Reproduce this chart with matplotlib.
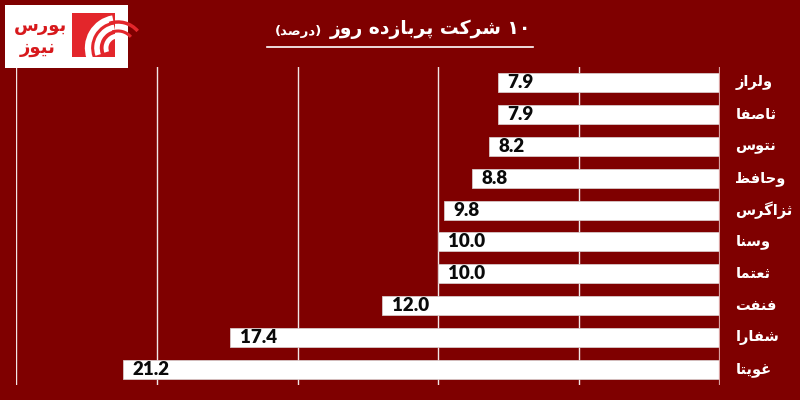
import matplotlib
matplotlib.use('Agg')
import matplotlib.pyplot as plt
from matplotlib.patches import Rectangle, Arc
from matplotlib.lines import Line2D
import numpy as np

# ---------------- data ----------------
companies = ['ولراز', 'ثاصفا', 'نتوس', 'وحافظ', 'ثزاگرس', 'وسنا', 'ثعتما', 'فنفت', 'شفارا', 'غویتا']
values = [7.9, 7.9, 8.2, 8.8, 9.8, 10.0, 10.0, 12.0, 17.4, 21.2]
grid_ticks = [0, 5, 10, 15, 20, 25]
title_main = '۱۰ شرکت پربازده روز'
title_unit = 'درصد'
logo_words = ['بورس', 'نیوز']

# ------------- minimal Arabic/Persian shaping -------------
FORMS = {
    'ا': (0xFE8D, 0xFE8E), 'آ': (0xFE81, 0xFE82),
    'ب': (0xFE8F, 0xFE90, 0xFE91, 0xFE92), 'پ': (0xFB56, 0xFB57, 0xFB58, 0xFB59),
    'ت': (0xFE95, 0xFE96, 0xFE97, 0xFE98), 'ث': (0xFE99, 0xFE9A, 0xFE9B, 0xFE9C),
    'ج': (0xFE9D, 0xFE9E, 0xFE9F, 0xFEA0), 'ح': (0xFEA1, 0xFEA2, 0xFEA3, 0xFEA4),
    'خ': (0xFEA5, 0xFEA6, 0xFEA7, 0xFEA8), 'د': (0xFEA9, 0xFEAA), 'ذ': (0xFEAB, 0xFEAC),
    'ر': (0xFEAD, 0xFEAE), 'ز': (0xFEAF, 0xFEB0), 'ژ': (0xFB8A, 0xFB8B),
    'س': (0xFEB1, 0xFEB2, 0xFEB3, 0xFEB4), 'ش': (0xFEB5, 0xFEB6, 0xFEB7, 0xFEB8),
    'ص': (0xFEB9, 0xFEBA, 0xFEBB, 0xFEBC), 'ض': (0xFEBD, 0xFEBE, 0xFEBF, 0xFEC0),
    'ط': (0xFEC1, 0xFEC2, 0xFEC3, 0xFEC4), 'ظ': (0xFEC5, 0xFEC6, 0xFEC7, 0xFEC8),
    'ع': (0xFEC9, 0xFECA, 0xFECB, 0xFECC), 'غ': (0xFECD, 0xFECE, 0xFECF, 0xFED0),
    'ف': (0xFED1, 0xFED2, 0xFED3, 0xFED4), 'ق': (0xFED5, 0xFED6, 0xFED7, 0xFED8),
    'ک': (0xFB8E, 0xFB8F, 0xFB90, 0xFB91), 'گ': (0xFB92, 0xFB93, 0xFB94, 0xFB95),
    'ل': (0xFEDD, 0xFEDE, 0xFEDF, 0xFEE0), 'م': (0xFEE1, 0xFEE2, 0xFEE3, 0xFEE4),
    'ن': (0xFEE5, 0xFEE6, 0xFEE7, 0xFEE8), 'ه': (0xFEE9, 0xFEEA, 0xFEEB, 0xFEEC),
    'و': (0xFEED, 0xFEEE), 'ی': (0xFBFC, 0xFBFD, 0xFBFE, 0xFBFF),
}


def shape_word(w):
    if all(c.isdigit() for c in w):
        return w
    out = []
    for i, c in enumerate(w):
        if c not in FORMS:
            out.append(c)
            continue
        prev = w[i - 1] if i > 0 else None
        nxt = w[i + 1] if i + 1 < len(w) else None
        jp = prev is not None and prev in FORMS and len(FORMS[prev]) == 4
        jn = nxt is not None and nxt in FORMS and len(FORMS[c]) == 4
        f = FORMS[c]
        if jp and jn:
            g = f[3]
        elif jp:
            g = f[1]
        elif jn:
            g = f[2]
        else:
            g = f[0]
        out.append(chr(g))
    return ''.join(reversed(out))


def shape_phrase(p):
    return ' '.join(shape_word(w) for w in reversed(p.split()))


# ---------------- figure ----------------
BG = '#7F0000'
W, H = 800, 400
fig = plt.figure(figsize=(8, 4), dpi=100, facecolor=BG)


def fx(x):
    return x / W


def fy(y):
    return 1 - y / H


ax = fig.add_axes([fx(16), fy(385), fx(720) - fx(16), fy(67) - fy(385)])
ax.set_facecolor(BG)

y = np.arange(len(companies))
ax.barh(y, values, height=0.6, color='white', edgecolor='#d8c8c8', linewidth=0.6, zorder=3)
ax.set_xlim(25, 0)
ax.set_ylim(len(companies) - 0.5, -0.5)

for t in grid_ticks[1:]:
    ax.axvline(t, color='#f2e6e6', linewidth=1.0, zorder=1)
ax.axvline(0, color='#d9a0a0', linewidth=1.6, zorder=4)

for s in ax.spines.values():
    s.set_visible(False)
ax.set_xticks([])
ax.set_yticks([])

for yi, v in zip(y, values):
    ax.annotate(f'{v:.1f}', xy=(v, yi), xytext=(7, 0), textcoords='offset points',
                ha='left', va='center', fontsize=13.5, fontweight='heavy',
                family='Lato', color='#0a0a0a', zorder=5)

for yi, name in zip(y, companies):
    ax.annotate(shape_word(name), xy=(0, yi), xycoords='data',
                xytext=(11, 0), textcoords='offset points',
                ha='left', va='center', fontsize=10.5, fontweight='bold',
                family='DejaVu Sans', color='white')

# ---------------- title ----------------
t_main = fig.text(fx(531), fy(29), shape_phrase(title_main), ha='right', va='center',
                  fontsize=13.5, fontweight='bold', family='DejaVu Sans', color='white')
fig.canvas.draw()
bb = t_main.get_window_extent()
fig.text((bb.x0 - 7) / W, fy(31), '(' + shape_word(title_unit) + ')', ha='right', va='center',
         fontsize=9.5, fontweight='bold', family='DejaVu Sans', color='white')
fig.add_artist(Line2D([fx(267), fx(533)], [fy(47), fy(47)], color='white',
                      linewidth=1.2, transform=fig.transFigure))

# ---------------- logo ----------------
fig.add_artist(Rectangle((fx(5), fy(68)), fx(128) - fx(5), fy(5) - fy(68),
                         facecolor='white', edgecolor='none', transform=fig.transFigure))
fig.add_artist(Rectangle((fx(72), fy(57)), fx(115) - fx(72), fy(13) - fy(57),
                         facecolor='#E3262B', edgecolor='none', transform=fig.transFigure))
cx, cy = 118, 48
for r, lw in [(30, 4.5), (21, 4.0), (12, 3.5)]:
    fig.add_artist(Arc((fx(cx), fy(cy)), 2 * r / W, 2 * r / H, theta1=95, theta2=215,
                       color='white', linewidth=lw, transform=fig.transFigure))
for r, lw in [(26, 2.5), (17, 2.2)]:
    fig.add_artist(Arc((fx(cx), fy(cy)), 2 * r / W, 2 * r / H, theta1=60, theta2=100,
                       color='#E3262B', linewidth=lw, transform=fig.transFigure))
fig.text(fx(67), fy(26), shape_word(logo_words[0]), ha='right', va='center',
         fontsize=13, fontweight='bold', family='DejaVu Sans', color='#D7191C')
fig.text(fx(38), fy(48), shape_word(logo_words[1]), ha='center', va='center',
         fontsize=13, fontweight='bold', family='DejaVu Sans', color='#D7191C')

fig.savefig('out.png', dpi=100, facecolor=BG)
